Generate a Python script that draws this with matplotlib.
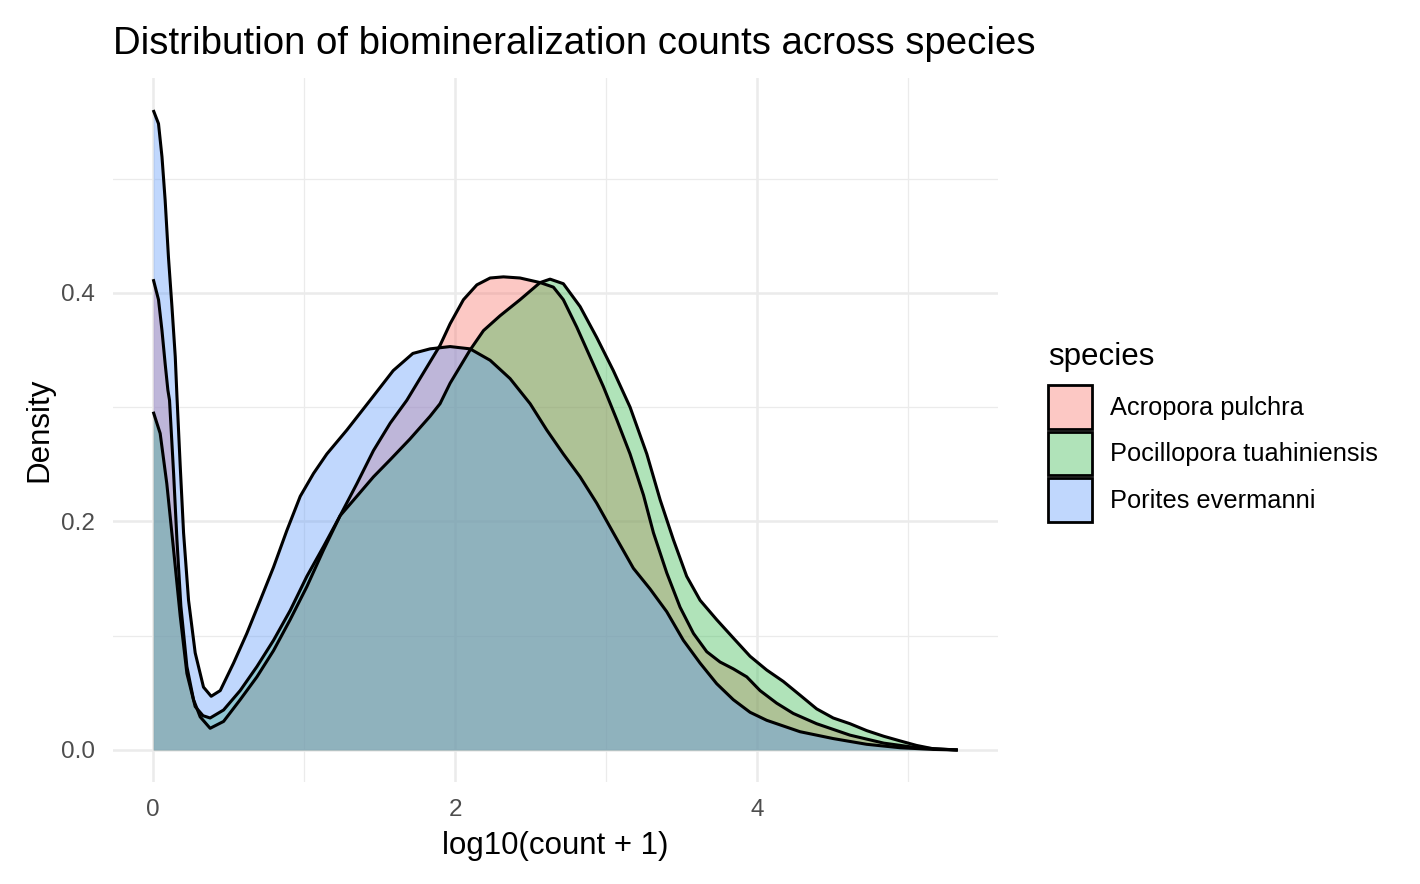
import numpy as np
import matplotlib.pyplot as plt
from matplotlib.patches import Patch
from matplotlib.colors import to_rgba
from matplotlib.ticker import FormatStrFormatter

plt.rcParams['font.family'] = ['Liberation Sans', 'DejaVu Sans']

# --- datos (densidad de log10(count + 1)) ---
species = ["Acropora pulchra", "Pocillopora tuahiniensis", "Porites evermanni"]
fill_colors = ["#F8766D", "#3AB952", "#629BFA"]

x_acropora = [0, .035, .058, .079, .097, .108, .135, .157, .183, .223, .267, .311,
              .377, .466, .576, .687, .797, .907, 1.018, 1.128, 1.238, 1.349, 1.459,
              1.57, 1.68, 1.79, 1.90, 1.967, 2.055, 2.144, 2.232, 2.32, 2.43, 2.563,
              2.651, 2.717, 2.806, 2.894, 2.982, 3.071, 3.159, 3.248, 3.314, 3.402,
              3.49, 3.579, 3.667, 3.755, 3.843, 3.932, 4.02, 4.13, 4.24, 4.395, 4.616,
              4.84, 5.06, 5.33]
dens_acropora = [.412, .394, .367, .338, .315, .306, .242, .184, .126, .073, .044, .029,
                 .019, .025, .044, .064, .087, .114, .143, .175, .205, .233, .262,
                 .286, .306, .330, .354, .373, .394, .407, .413, .414, .413, .409,
                 .405, .394, .370, .344, .318, .289, .259, .223, .190, .155,
                 .125, .102, .086, .077, .071, .064, .052, .041, .032, .023, .013,
                 .006, .002, 0]

x_pocillopora = [0, .046, .09, .135, .179, .223, .278, .33, .377, .466, .576, .687, .797,
                 .907, 1.018, 1.128, 1.238, 1.349, 1.459, 1.57, 1.70, 1.834, 1.90, 1.967,
                 2.099, 2.188, 2.298, 2.43, 2.563, 2.629, 2.717, 2.828, 2.938, 3.048,
                 3.159, 3.27, 3.358, 3.446, 3.534, 3.623, 3.733, 3.843, 3.954, 4.064,
                 4.174, 4.285, 4.395, 4.505, 4.616, 4.726, 4.84, 4.947, 5.057, 5.17, 5.33]
dens_pocillopora = [.296, .277, .233, .175, .117, .067, .038, .030, .028, .035, .052, .073, .096,
                    .122, .152, .178, .205, .222, .239, .254, .272, .292, .303, .321,
                    .350, .367, .380, .394, .409, .412, .408, .388, .361, .332,
                    .300, .259, .219, .184, .152, .131, .114, .098, .082, .070,
                    .060, .048, .036, .028, .023, .017, .012, .008, .004, .001, 0]

x_porites = [0, .035, .058, .079, .101, .124, .146, .157, .179, .201, .234, .278, .333,
             .384, .444, .532, .620, .709, .797, .885, .974, 1.062, 1.150, 1.283, 1.437,
             1.59, 1.72, 1.834, 1.967, 2.099, 2.232, 2.364, 2.497, 2.607, 2.717, 2.828,
             2.938, 3.048, 3.181, 3.291, 3.402, 3.512, 3.623, 3.733, 3.843, 3.954, 4.064,
             4.285, 4.505, 4.726, 4.947, 5.17, 5.33]
dens_porites = [.560, .548, .519, .481, .431, .388, .344, .310, .248, .190, .131, .085, .055,
                .047, .052, .076, .102, .131, .160, .192, .222, .242, .259, .280, .306,
                .332, .347, .351, .353, .351, .341, .325, .303, .280, .259, .239,
                .216, .190, .159, .141, .121, .096, .076, .058, .044, .033, .026,
                .016, .010, .005, .002, .0005, 0]

xs = [x_acropora, x_pocillopora, x_porites]
ds = [dens_acropora, dens_pocillopora, dens_porites]

fig = plt.figure(figsize=(14.2, 8.84), dpi=100)
ax = fig.add_axes([113/1420, 1-782/884, (998-113)/1420, (782-78)/884])

# cada especie: relleno y luego contorno superior
for x, d, c in zip(xs, ds, fill_colors):
    ax.fill_between(x, 0, d, color=c, alpha=0.4, linewidth=0)
    ax.plot(x, d, color='black', lw=2.2, solid_joinstyle='round', solid_capstyle='butt')

all_x = np.concatenate([np.array(v) for v in xs])
all_d = np.concatenate([np.array(v) for v in ds])
xr = all_x.max() - all_x.min()
yr = all_d.max() - 0
ax.set_xlim(all_x.min() - 0.05*xr, all_x.max() + 0.05*xr)
ax.set_ylim(-0.05*yr, all_d.max() + 0.05*yr)

ax.set_xticks([0, 2, 4])
ax.set_xticks([1, 3, 5], minor=True)
ax.set_yticks([0, 0.2, 0.4])
ax.set_yticks([0.1, 0.3, 0.5], minor=True)
ax.yaxis.set_major_formatter(FormatStrFormatter('%.1f'))
ax.grid(which='major', color='#EBEBEB', lw=1.8)
ax.grid(which='minor', color='#EBEBEB', lw=0.9)
ax.set_axisbelow(True)
for s in ax.spines.values():
    s.set_visible(False)
ax.tick_params(which='both', length=0, labelsize=17.5, labelcolor='#4D4D4D')
ax.tick_params(axis='x', pad=12)
ax.tick_params(axis='y', pad=13)

ax.set_xlabel("log10(count + 1)", fontsize=22.5, labelpad=7.5)
ax.set_ylabel("Density", fontsize=22.5, labelpad=5)

fig.text(113/1420, 1-54/884, "Distribution of biomineralization counts across species",
         fontsize=27.6, ha='left', va='baseline')

# leyenda
fig.text(1048/1420, 1-365/884, "species", fontsize=22.5, ha='left', va='baseline')
handles = [Patch(facecolor=to_rgba(c, 0.4), edgecolor='black', lw=2) for c in fill_colors]
fig.legend(handles, species, loc='upper left', bbox_to_anchor=(1048/1420, 1-385/884),
           frameon=False, fontsize=18.3,
           handlelength=1.74, handleheight=2.26, labelspacing=0.12, handletextpad=0.68,
           borderaxespad=0, borderpad=0)

fig.savefig("out.png", dpi=100)
